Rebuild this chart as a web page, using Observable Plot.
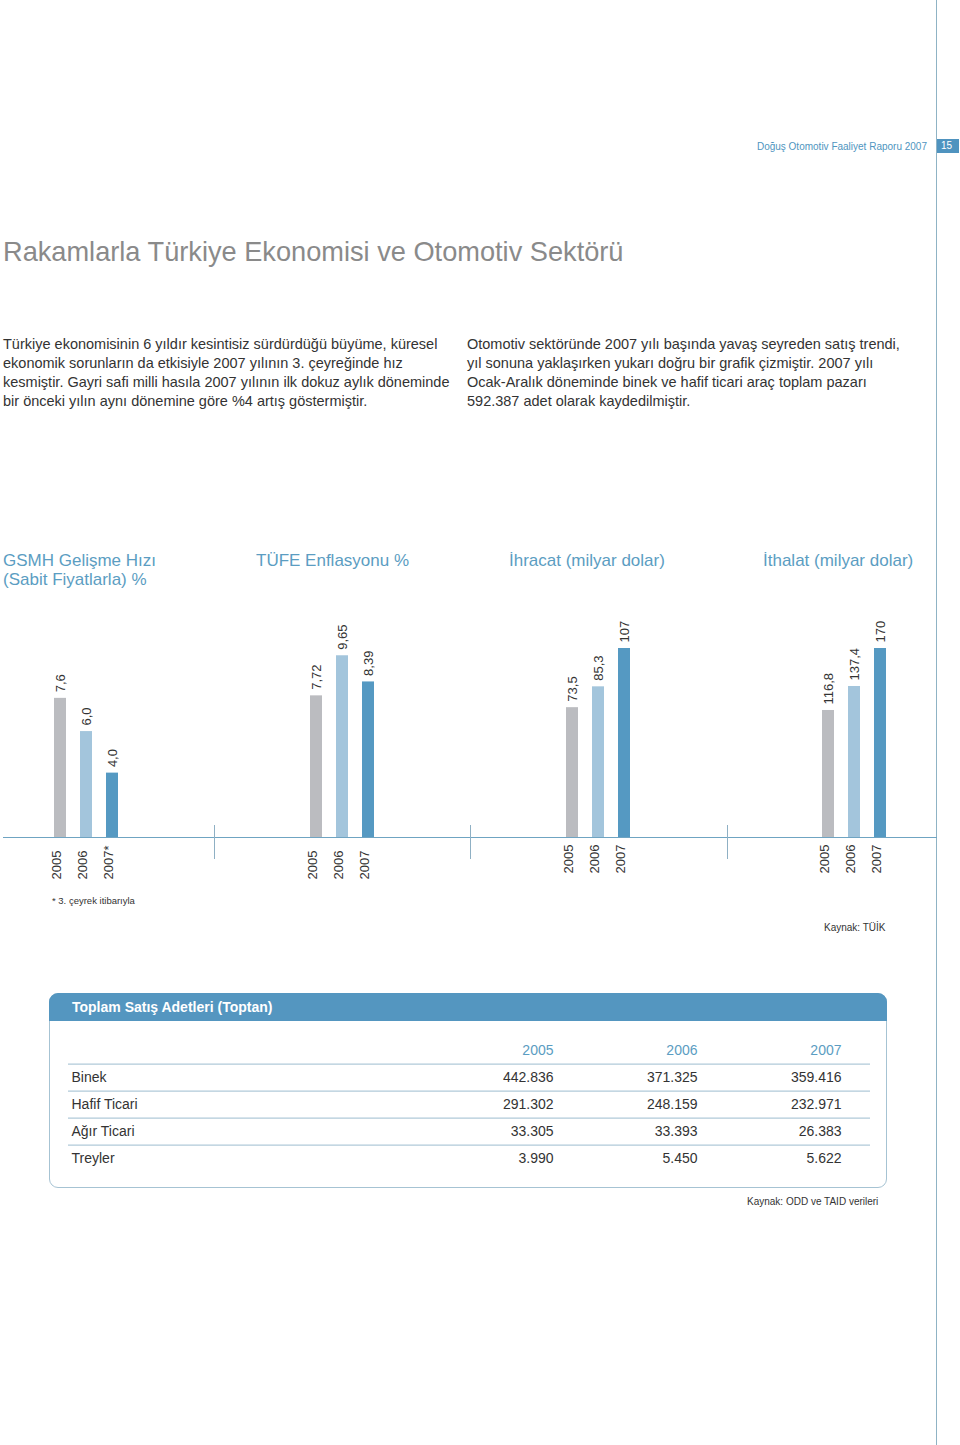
<!DOCTYPE html>
<html>
<head>
<meta charset="utf-8">
<script src="https://cdn.jsdelivr.net/npm/d3@7"></script>
<script src="https://cdn.jsdelivr.net/npm/@observablehq/plot@0.6"></script>
<style>
  html, body { margin: 0; padding: 0; background: #fff; }
  body { width: 960px; height: 1445px; position: relative; overflow: hidden;
         font-family: "Liberation Sans", Arial, Helvetica, sans-serif; color: #333; }
  .abs { position: absolute; }
  .pagerule { left: 936px; top: 0; width: 1px; height: 1445px; background: #8fb3c5; }
  .hdr { top: 140px; right: 33px; font-size: 10px; color: #4f95c0; line-height: 14px; white-space: nowrap; }
  .pgnum { left: 937px; top: 139px; width: 22px; height: 14px; background: #4f93bf; color: #fff;
           font-size: 10px; line-height: 14px; padding-left: 4px; box-sizing: border-box; }
  .title { left: 3px; top: 236px; font-size: 27.2px; color: #8a8a8a; white-space: nowrap; line-height: 32px; }
  .para { top: 335px; font-size: 14.5px; line-height: 19px; color: #333; white-space: nowrap; }
  .ptitle { top: 551px; font-size: 17px; line-height: 19px; color: #5b9dc2; white-space: nowrap; }
  .sep { width: 1px; height: 34px; top: 825px; background: #8fb0c4; }
  .note { font-size: 9.5px; color: #333; white-space: nowrap; }
  .tbox { left: 49px; top: 993px; width: 838px; height: 195px; border: 1px solid #a6c3d3;
          border-radius: 9px; box-sizing: border-box; }
  .thead { left: 49px; top: 993px; width: 838px; height: 28px; background: #5496c0;
           border-radius: 9px 9px 0 0; color: #fff; font-weight: bold; font-size: 14px;
           line-height: 28px; padding-left: 23px; box-sizing: border-box; }
</style>
</head>
<body>
<script>
// ---------- DATA ----------
const panelTitles = [
  ["GSMH Gelişme Hızı", "(Sabit Fiyatlarla) %"],
  ["TÜFE Enflasyonu %"],
  ["İhracat (milyar dolar)"],
  ["İthalat (milyar dolar)"]
];
const gsmhYears = ["2005", "2006", "2007*"];
const years = ["2005", "2006", "2007"];
const gsmh = [7.6, 6.0, 4.0];
const tufe = [7.72, 9.65, 8.39];
const ihracat = [73.5, 85.3, 107];
const ithalat = [116.8, 137.4, 170];

const salesCategories = ["Binek", "Hafif Ticari", "Ağır Ticari", "Treyler"];
const sales2005 = [442836, 291302, 33305, 3990];
const sales2006 = [371325, 248159, 33393, 5450];
const sales2007 = [359416, 232971, 26383, 5622];

// ---------- STYLE / LAYOUT ----------
const barColors = ["#bbbcc0", "#a3c5dc", "#5599c2"];
const axisColor = "#6fa4c2";
const font = '"Liberation Sans", Arial, Helvetica, sans-serif';
const tr = d3.formatLocale({decimal: ",", thousands: ".", grouping: [3], currency: ["", ""]});

const panels = [
  {years: gsmhYears, values: gsmh, decimals: 1, left: 0, width: 214, ml: 3, x0: 39, yDomain: [0.9, 10], yearDy: 42},
  {years: years, values: tufe, decimals: 2, left: 214, width: 256, ml: 0, x0: 81.2, yDomain: [0.9, 10], yearDy: 42},
  {years: years, values: ihracat, decimals: 1, left: 470, width: 257, ml: 0, x0: 81.2, yDomain: [0, 107], yearDy: 36},
  {years: years, values: ithalat, decimals: 1, left: 727, width: 210, ml: 0, x0: 80.6, yDomain: [7.8, 170], yearDy: 36}
];
const titleLefts = [3, 256, 509, 763];

function el(cls, html, styles) {
  const d = document.createElement("div");
  d.className = "abs " + cls;
  if (html != null) d.innerHTML = html;
  Object.assign(d.style, styles || {});
  document.body.appendChild(d);
  return d;
}

// page furniture
el("pagerule");
el("hdr", "Doğuş Otomotiv Faaliyet Raporu 2007");
el("pgnum", "15");
el("title", "Rakamlarla Türkiye Ekonomisi ve Otomotiv Sektörü");
el("para", "Türkiye ekonomisinin 6 yıldır kesintisiz sürdürdüğü büyüme, küresel<br>ekonomik sorunların da etkisiyle 2007 yılının 3. çeyreğinde hız<br>kesmiştir. Gayri safi milli hasıla 2007 yılının ilk dokuz aylık döneminde<br>bir önceki yılın aynı dönemine göre %4 artış göstermiştir.", {left: "3px"});
el("para", "Otomotiv sektöründe 2007 yılı başında yavaş seyreden satış trendi,<br>yıl sonuna yaklaşırken yukarı doğru bir grafik çizmiştir. 2007 yılı<br>Ocak-Aralık döneminde binek ve hafif ticari araç toplam pazarı<br>592.387 adet olarak kaydedilmiştir.", {left: "467px"});

panelTitles.forEach((t, i) => el("ptitle", t.join("<br>"), {left: titleLefts[i] + "px"}));

// bar panels
panels.forEach((p) => {
  const rows = p.values.map((v, i) => ({
    year: p.years[i], value: v, idx: i,
    label: (Number.isInteger(v) && v >= 100) ? tr.format(",.0f")(v) : tr.format(",." + p.decimals + "f")(v)
  }));
  const chart = Plot.plot({
    width: p.width, height: 300,
    marginTop: 0, marginBottom: 63, marginLeft: p.ml, marginRight: 0,
    style: {fontFamily: font, overflow: "visible", background: "transparent"},
    x: {type: "band", domain: p.years, range: [p.x0, p.x0 + 93.1], padding: 0.54, axis: null},
    y: {domain: p.yDomain, range: [237, 48], axis: null},
    color: {type: "ordinal", domain: [0, 1, 2], range: barColors},
    marks: [
      Plot.barY(rows, {x: "year", y1: p.yDomain[0], y2: "value", fill: "idx"}),
      Plot.ruleY([p.yDomain[0]], {stroke: axisColor, strokeWidth: 1}),
      Plot.text(rows, {x: "year", y: "value", text: "label", rotate: -90, textAnchor: "start",
                       dy: -6, fontSize: 13, fill: "#333"}),
      Plot.text(rows, {x: "year", frameAnchor: "bottom", text: "year", rotate: -90, textAnchor: "start",
                       dy: p.yearDy, fontSize: 13, fill: "#333"})
    ]
  });
  const wrap = el("", null, {left: p.left + "px", top: "600px"});
  wrap.appendChild(chart);
});

[214, 470, 727].forEach(x => el("sep", null, {left: x + "px"}));

el("note", "* 3. çeyrek itibarıyla", {left: "52px", top: "895px"});
el("note", "Kaynak: TÜİK", {left: "824px", top: "922px", fontSize: "10px"});

// sales table
el("tbox");
el("thead", "Toplam Satış Adetleri (Toptan)");

const rowKeys = ["__head", ...salesCategories];
const cells = [];
salesCategories.forEach((c, i) => {
  [sales2005, sales2006, sales2007].forEach((arr, j) => cells.push({row: c, col: years[j], v: tr.format(",.0f")(arr[i])}));
});
const heads = years.map(y => ({row: "__head", col: y, v: y}));

const table = Plot.plot({
  width: 838, height: 167,
  marginTop: 0, marginBottom: 0, marginLeft: 19, marginRight: 17,
  style: {fontFamily: font, overflow: "visible", background: "transparent"},
  x: {type: "point", domain: years, range: [503, 792], padding: 0, axis: null},
  y: {type: "point", domain: rowKeys, range: [28, 137], padding: 0, axis: null},
  marks: [
    Plot.ruleY(rowKeys.slice(0, 4), {y: d => d, dy: 13.6, stroke: "#9dbdcf", strokeWidth: 1}),
    Plot.text(heads, {x: "col", y: "row", text: "v", textAnchor: "end", fontSize: 14, fill: "#5b9dc2"}),
    Plot.text(salesCategories, {y: d => d, frameAnchor: "left", text: d => d, textAnchor: "start",
                                dx: 3, fontSize: 14, fill: "#333"}),
    Plot.text(cells, {x: "col", y: "row", text: "v", textAnchor: "end", fontSize: 14, fill: "#333"})
  ]
});
const twrap = el("", null, {left: "49px", top: "1021px"});
twrap.appendChild(table);

el("note", "Kaynak: ODD ve TAID verileri", {left: "747px", top: "1196px", fontSize: "10px"});
</script>
</body>
</html>
